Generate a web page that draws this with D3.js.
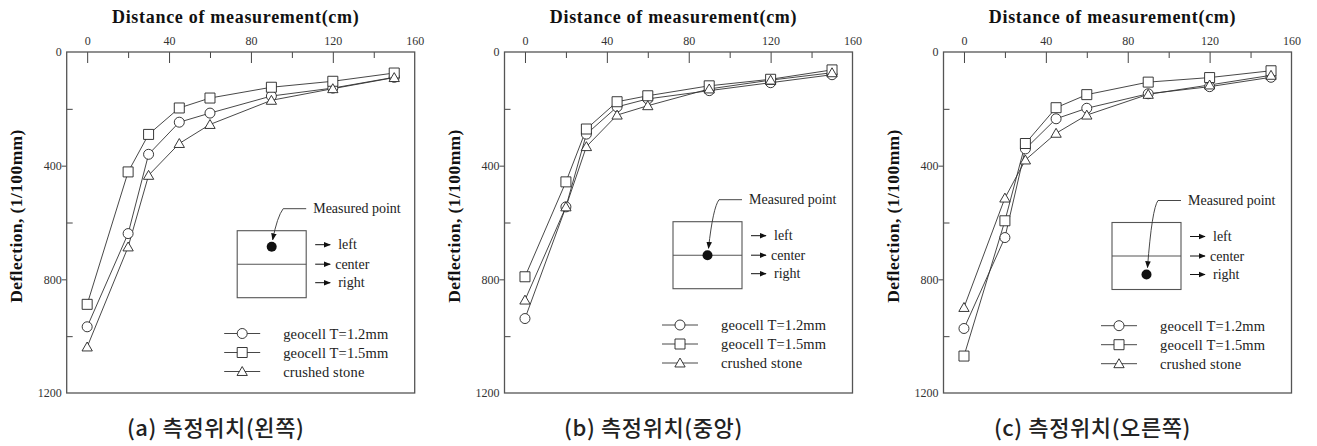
<!DOCTYPE html>
<html>
<head>
<meta charset="utf-8">
<script src="https://cdn.jsdelivr.net/npm/d3@7"></script>
<style>
  html, body { margin: 0; padding: 0; background: #fff; }
  svg { display: block; }
  .serif, .serif text { font-family: "Liberation Serif", "Tinos", "Times New Roman", "DejaVu Serif", serif; }
  .kr { font-family: "Noto Sans CJK KR", "Noto Sans", sans-serif; }
</style>
</head>
<body>
<svg id="chart" width="1317" height="446"></svg>
<script>
// ---------------- DATA ----------------
const distances = [0, 20, 30, 45, 60, 90, 120, 150];
const seriesNames = ["geocell T=1.2mm", "geocell T=1.5mm", "crushed stone"];
const seriesSymbols = ["circle", "square", "triangle"];
// (a) measured at left
const leftT12   = [967, 639, 360, 247, 215, 155, 127, 89];
const leftT15   = [888, 422, 290, 197, 162, 124, 103, 74];
const leftStone = [1038, 686, 434, 322, 255, 170, 129, 90];
// (b) measured at center
const centerT12   = [938, 545, 289, 193, 165, 136, 108, 80];
const centerT15   = [791, 457, 271, 175, 154, 119, 96, 63];
const centerStone = [873, 545, 333, 222, 189, 130, 99, 73];
// (c) measured at right
const rightT12   = [973, 653, 341, 235, 198, 147, 122, 89];
const rightT15   = [1070, 594, 322, 196, 150, 106, 90, 66];
const rightStone = [899, 514, 380, 286, 222, 149, 116, 82];

const xMajorTicks = [0, 40, 80, 120, 160];
const xMinorTicks = [20, 60, 100, 140];
const yMajorTicks = [0, 400, 800, 1200];
const yMinorTicks = [200, 600, 1000];
const xDomain = [-10, 160];
const yDomain = [0, 1200];
const xTitle = "Distance of measurement(cm)";
const yTitle = "Deflection, (1/100mm)";
const positionLabels = ["left", "center", "right"];
const pointLabel = "Measured point";
const captions = ["(a) 측정위치(왼쪽)", "(b) 측정위치(중앙)", "(c) 측정위치(오른쪽)"];
const panelSeries = [
  [leftT12, leftT15, leftStone],
  [centerT12, centerT15, centerStone],
  [rightT12, rightT15, rightStone]
];
const measuredPosition = [0, 1, 2]; // index into positionLabels

// ---------------- LAYOUT ----------------
const svg = d3.select("#chart");
const plotTop = 52, plotBottom = 393, plotW = 348;
const panelLefts = [66.7, 504.5, 943.5];
const insetLayouts = [
  { rx: 170.5, ry: 230.7, legendY: 333.5 },
  { rx: 168.5, ry: 221.7, legendY: 325 },
  { rx: 168.5, ry: 222.5, legendY: 325.7 }
];

const defs = svg.append("defs");
defs.append("marker").attr("id", "ah").attr("viewBox", "0 0 10 10")
  .attr("refX", 9).attr("refY", 5).attr("markerWidth", 7).attr("markerHeight", 7)
  .attr("markerUnits", "userSpaceOnUse").attr("orient", "auto")
  .append("path").attr("d", "M0,1 L10,5 L0,9 Z").attr("fill", "#111");

const symbolGen = {
  circle: d3.symbol().type(d3.symbolCircle).size(Math.PI * 5 * 5),
  square: d3.symbol().type(d3.symbolSquare).size(10 * 10),
  triangle: d3.symbol().type(d3.symbolTriangle).size(46)
};

panelLefts.forEach((left, pi) => {
  const x = d3.scaleLinear().domain(xDomain).range([left, left + plotW]);
  const y = d3.scaleLinear().domain(yDomain).range([plotTop, plotBottom]);
  const g = svg.append("g").attr("class", "serif");

  // top axis (ticks inward)
  const xAx = g.append("g").attr("transform", `translate(0,${plotTop})`)
    .call(d3.axisTop(x).tickValues(xMajorTicks).tickSize(-11).tickPadding(7).tickFormat(d3.format("d")));
  const xAxMinor = g.append("g").attr("transform", `translate(0,${plotTop})`)
    .call(d3.axisTop(x).tickValues(xMinorTicks).tickSize(-6).tickFormat(""));
  xAx.select(".domain").remove(); xAxMinor.select(".domain").remove();
  xAx.selectAll(".tick").filter(d => d === 160).select("line").remove();

  // left axis
  const yAx = g.append("g").attr("transform", `translate(${left},0)`)
    .call(d3.axisLeft(y).tickValues(yMajorTicks).tickSize(5).tickPadding(0).tickFormat(d3.format("d")));
  const yAxIn = g.append("g").attr("transform", `translate(${left},0)`)
    .call(d3.axisLeft(y).tickValues(yMinorTicks).tickSize(-6).tickFormat(""));
  yAx.select(".domain").remove(); yAxIn.select(".domain").remove();
  yAx.selectAll(".tick").filter(d => d === 0 || d === 1200).select("line").remove();

  g.selectAll("g").attr("font-family", null);
  g.selectAll(".tick text").attr("font-size", 12).attr("fill", "#333");
  g.selectAll(".tick line").attr("stroke", "#444").attr("stroke-width", 1);

  // frame
  g.append("rect").attr("x", left).attr("y", plotTop).attr("width", plotW).attr("height", plotBottom - plotTop)
    .attr("fill", "none").attr("stroke", "#555").attr("stroke-width", 1.3);

  // titles
  g.append("text").attr("x", left + plotW / 2 - 5).attr("y", 23)
    .attr("text-anchor", "middle").attr("font-weight", "bold").attr("letter-spacing", 0.7)
    .attr("font-size", 18).attr("fill", "#111").text(xTitle);
  g.append("text").attr("transform", `translate(${left - 45},216) rotate(-90)`)
    .attr("text-anchor", "middle").attr("font-weight", "bold").attr("letter-spacing", 0.4)
    .attr("font-size", 17.5).attr("fill", "#111").text(yTitle);
  svg.append("text").attr("class", "kr").attr("x", left + plotW / 2 - 25).attr("y", 436)
    .attr("text-anchor", "middle").attr("letter-spacing", 0.6)
    .attr("font-weight", 500).attr("font-size", 22).attr("fill", "#222").text(captions[pi]);

  // series lines
  const line = d3.line().x((d, i) => x(distances[i])).y(d => y(d));
  panelSeries[pi].forEach(vals => {
    g.append("path").attr("d", line(vals)).attr("fill", "none")
      .attr("stroke", "#333").attr("stroke-width", 0.9);
  });
  // markers
  panelSeries[pi].forEach((vals, si) => {
    g.selectAll(null).data(vals).enter().append("path")
      .attr("d", symbolGen[seriesSymbols[si]]())
      .attr("transform", (d, i) => `translate(${x(distances[i])},${y(d) + (si === 2 ? 1 : 0)})`)
      .attr("fill", "#fff").attr("stroke", "#222").attr("stroke-width", 0.9);
  });

  // legend
  const L = insetLayouts[pi];
  seriesNames.forEach((name, si) => {
    const ly = L.legendY + si * 19;
    const lx0 = left + 157.5, lx1 = lx0 + 36;
    g.append("line").attr("x1", lx0).attr("x2", lx1).attr("y1", ly).attr("y2", ly)
      .attr("stroke", "#333").attr("stroke-width", 0.9);
    g.append("path").attr("d", symbolGen[seriesSymbols[si]]())
      .attr("transform", `translate(${(lx0 + lx1) / 2},${ly + (si === 2 ? 1 : 0)})`)
      .attr("fill", "#fff").attr("stroke", "#222").attr("stroke-width", 0.9);
    g.append("text").attr("x", left + 216.5).attr("y", ly + 5).attr("letter-spacing", 0.15)
      .attr("font-size", 14.5).attr("fill", "#222").text(name);
  });

  // inset diagram
  const rx = left + L.rx, ry = L.ry, rw = 69, rh = 67;
  g.append("rect").attr("x", rx).attr("y", ry).attr("width", rw).attr("height", rh)
    .attr("fill", "none").attr("stroke", "#555").attr("stroke-width", 1.1);
  g.append("line").attr("x1", rx).attr("x2", rx + rw).attr("y1", ry + rh / 2).attr("y2", ry + rh / 2)
    .attr("stroke", "#555").attr("stroke-width", 1.1);
  const rowYs = [ry + 14, ry + 33.5, ry + 52];
  const mp = measuredPosition[pi];
  const dotX = rx + rw / 2, dotY = [ry + 16, ry + rh / 2, ry + 52][mp];
  g.append("circle").attr("cx", dotX).attr("cy", dotY).attr("r", 5).attr("fill", "#111");
  positionLabels.forEach((lab, k) => {
    const ay = rowYs[k];
    g.append("line").attr("x1", rx + rw + 9).attr("x2", rx + rw + 24).attr("y1", ay).attr("y2", ay)
      .attr("stroke", "#111").attr("stroke-width", 1).attr("marker-end", "url(#ah)");
    g.append("text").attr("x", rx + rw + (k === 1 ? 29 : 32)).attr("y", ay + 4.5)
      .attr("font-size", 14).attr("fill", "#222").text(lab);
  });
  // leader and label
  const labelY = ry - 22;
  const hx0 = rx + 46, hx1 = rx + 69;
  g.append("line").attr("x1", hx0).attr("x2", hx1).attr("y1", labelY).attr("y2", labelY)
    .attr("stroke", "#333").attr("stroke-width", 0.9);
  g.append("path")
    .attr("d", `M${hx0},${labelY} Q${hx0 - 6},${labelY + 8} ${dotX + 1},${dotY - 7}`)
    .attr("fill", "none").attr("stroke", "#333").attr("stroke-width", 0.9).attr("marker-end", "url(#ah)");
  g.append("text").attr("x", rx + 76).attr("y", labelY + 4.5)
    .attr("font-size", 14).attr("fill", "#222").text(pointLabel);
});
</script>
</body>
</html>
